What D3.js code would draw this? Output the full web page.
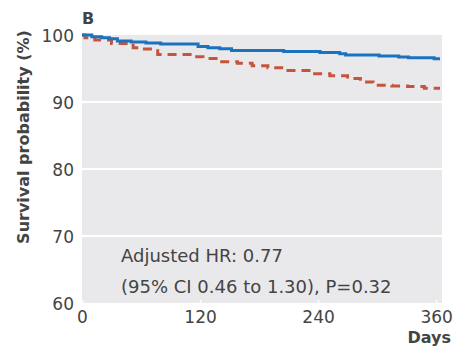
<!DOCTYPE html>
<html>
<head>
<meta charset="utf-8">
<script src="https://cdn.jsdelivr.net/npm/d3@7"></script>
<style>
  body { margin: 0; background: #fff; }
  text { font-family: "DejaVu Sans", sans-serif; fill: #444; }
</style>
</head>
<body>
<svg id="chart" width="453" height="351"></svg>
<script>
// survival curves (day, %)
var blueDays = [0, 10, 20, 28, 36, 50, 65, 80, 118, 128, 140, 152, 205, 242, 262, 268, 302, 322, 332, 358, 364];
var blueSurv = [100, 99.75, 99.6, 99.45, 99.1, 98.95, 98.8, 98.65, 98.3, 98.1, 97.95, 97.7, 97.55, 97.4, 97.2, 97.0, 96.85, 96.7, 96.6, 96.45, 96.45];
var redDays = [0, 3, 13, 30, 52, 59, 77, 115, 123, 140, 158, 173, 189, 203, 234, 252, 270, 283, 296, 315, 331, 348, 364];
var redSurv = [100, 99.6, 99.25, 98.75, 98.1, 97.9, 97.1, 96.75, 96.5, 96.0, 95.8, 95.4, 95.1, 94.7, 94.2, 93.9, 93.5, 93.0, 92.5, 92.4, 92.3, 92.05, 92.05];
var xTicks = [0, 120, 240, 360];
var yTicks = [60, 70, 80, 90, 100];
var noteLines = ["Adjusted HR: 0.77", "(95% CI 0.46 to 1.30), P=0.32"];

var margin = {left: 82, right: 11, top: 35, bottom: 48};
var W = 453, H = 351;
var svg = d3.select("#chart");

var x = d3.scaleLinear().domain([0, 366]).range([margin.left, W - margin.right]);
var y = d3.scaleLinear().domain([60, 100]).range([H - margin.bottom, margin.top]);

// panel
svg.append("rect")
  .attr("x", x(0)).attr("y", y(100))
  .attr("width", x(366) - x(0)).attr("height", y(60) - y(100))
  .attr("fill", "#e9e9ec");

// gridlines
svg.append("g").selectAll("line")
  .data(yTicks.filter(function(d){ return d > 60 && d < 100; }))
  .enter().append("line")
  .attr("x1", x(0)).attr("x2", x(366))
  .attr("y1", function(d){ return y(d); }).attr("y2", function(d){ return y(d); })
  .attr("stroke", "#fff").attr("stroke-width", 2);

// axes
var xAxis = d3.axisBottom(x).tickValues(xTicks).tickSize(-3).tickPadding(8);
var yAxis = d3.axisLeft(y).tickValues(yTicks).tickSize(-3).tickPadding(8);

var gx = svg.append("g")
  .attr("transform", "translate(0," + y(60) + ")")
  .call(xAxis);
var gy = svg.append("g")
  .attr("transform", "translate(" + x(0) + ",0)")
  .call(yAxis);
[gx, gy].forEach(function(g){
  g.select(".domain").remove();
  g.selectAll(".tick line").attr("stroke", "#fff").attr("stroke-width", 1.5);
  g.selectAll(".tick text").style("font-size", "17px").attr("fill", "#444");
});
gx.selectAll(".tick text").attr("dy", "0.71em");
gy.selectAll(".tick text").attr("dy", "0.36em");

// curves
var line = d3.line()
  .x(function(d){ return x(d[0]); })
  .y(function(d){ return y(d[1]); })
  .curve(d3.curveStepAfter);

svg.append("path")
  .datum(d3.zip(redDays, redSurv))
  .attr("d", line)
  .attr("fill", "none")
  .attr("stroke", "#c4553c")
  .attr("stroke-width", 3)
  .attr("stroke-dasharray", "9,6");

svg.append("path")
  .datum(d3.zip(blueDays, blueSurv))
  .attr("d", line)
  .attr("fill", "none")
  .attr("stroke", "#1b73c0")
  .attr("stroke-width", 3);

// annotation
svg.append("g").selectAll("text")
  .data(noteLines)
  .enter().append("text")
  .attr("x", 121)
  .attr("y", function(d, i){ return 262 + i * 31; })
  .style("font-size", "18px")
  .text(function(d){ return d; });

// labels
svg.append("text")
  .attr("x", 82).attr("y", 24)
  .style("font-size", "16px").style("font-weight", "bold")
  .text("B");

svg.append("text")
  .attr("x", 451).attr("y", 343)
  .attr("text-anchor", "end")
  .style("font-size", "16px").style("font-weight", "bold")
  .text("Days");

svg.append("text")
  .attr("transform", "translate(29,137) rotate(-90)")
  .attr("text-anchor", "middle")
  .style("font-size", "16px").style("font-weight", "bold")
  .text("Survival probability (%)");
</script>
</body>
</html>
